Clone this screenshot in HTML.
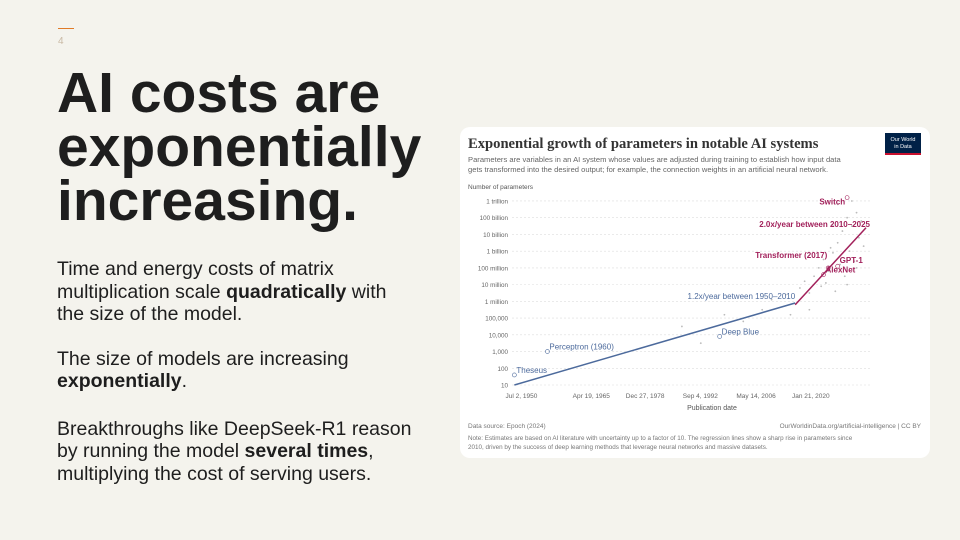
<!DOCTYPE html>
<html><head><meta charset="utf-8">
<style>
body{margin:0;width:960px;height:540px;background:#f4f3ed;font-family:"Liberation Sans",sans-serif;overflow:hidden;position:relative}
.num{position:absolute;left:58px;top:36px;font-size:10px;color:#c9b9a4}
.bar{position:absolute;left:58px;top:28px;width:16px;height:1px;background:#e07b28}
h1{position:absolute;left:57px;top:66px;margin:0;font-size:57px;line-height:54px;font-weight:bold;color:#1e1e1e}
.body{position:absolute;left:57px;top:258px;font-size:19.5px;line-height:22.5px;color:#1e1e1e;width:400px}
.body p{margin:0 0 22px 0}
.card{position:absolute;left:460px;top:127px;width:470px;height:331px;background:#fff;border-radius:10px}
</style></head><body>
<div class="bar"></div>
<div class="num">4</div>
<h1>AI costs are<br>exponentially<br>increasing.</h1>
<div class="body">
<p>Time and energy costs of matrix<br>multiplication scale <b>quadratically</b> with<br>the size of the model.</p>
<p>The size of models are increasing<br><b>exponentially</b>.</p>
<p style="margin-top:25px">Breakthroughs like DeepSeek-R1 reason<br>by running the model <b>several times</b>,<br>multiplying the cost of serving users.</p>
</div>
<div class="card"></div>
<svg id="chart" width="960" height="540" style="position:absolute;left:0;top:0" font-family="Liberation Sans, sans-serif">
<text x="468" y="148" font-family="Liberation Serif, serif" font-size="14.6" font-weight="bold" fill="#333">Exponential growth of parameters in notable AI systems</text>
<rect x="885" y="133" width="36" height="20" fill="#002147"/>
<rect x="885" y="153" width="36" height="2" fill="#c8102e"/>
<text x="903" y="141" font-size="5.5" fill="#fff" text-anchor="middle">Our World</text>
<text x="903" y="148" font-size="5.5" fill="#fff" text-anchor="middle">in Data</text>
<text x="468" y="162" font-size="7.6" fill="#666">Parameters are variables in an AI system whose values are adjusted during training to establish how input data</text>
<text x="468" y="172" font-size="7.6" fill="#666">gets transformed into the desired output; for example, the connection weights in an artificial neural network.</text>
<text x="468" y="189" font-size="6.5" fill="#555">Number of parameters</text>
<g id="grid"></g><g id="dots"></g><g id="lines"></g><g id="labels"></g>
<text x="712" y="410" font-size="7" fill="#555" text-anchor="middle">Publication date</text>
<text x="468" y="428" font-size="6.5" fill="#777">Data source: Epoch (2024)</text>
<text x="921" y="428" font-size="6.5" fill="#777" text-anchor="end">OurWorldinData.org/artificial-intelligence | CC BY</text>
<text x="468" y="440" font-size="6.3" fill="#777">Note: Estimates are based on AI literature with uncertainty up to a factor of 10. The regression lines show a sharp rise in parameters since</text>
<text x="468" y="449" font-size="6.3" fill="#777">2010, driven by the success of deep learning methods that leverage neural networks and massive datasets.</text>
</svg>
<script>
const yTicks=[1,2,3,4,5,6,7,8,9,10,11,12];
const yTickLabels=["10","100","1,000","10,000","100,000","1 million","10 million","100 million","1 billion","10 billion","100 billion","1 trillion"];
const xTicks=[1952,1966.8,1978.2,1989.9,2001.7,2013.3];
const xTickLabels=["Jul 2, 1950","Apr 19, 1965","Dec 27, 1978","Sep 4, 1992","May 14, 2006","Jan 21, 2020"];
const blueLineYears=[1950.5,2010];
const blueLineLog=[1.0,5.9];
const redLineYears=[2010,2025];
const redLineLog=[5.8,10.4];
const notableNames=["Theseus","Perceptron (1960)","Deep Blue","AlexNet","Transformer (2017)","GPT-1","Switch"];
const notableYears=[1950.5,1957.5,1994,2016,2017,2019,2021];
const notableLog=[1.6,3.0,3.9,7.6,8.0,8.1,12.2];
const dotYears=[1986,1990,1995,1999,2003,2005,2008,2009,2011,2012,2013,2014,2015,2015.5,2016,2016.5,2017,2017.5,2018,2018.5,2019,2019.5,2020,2020.5,2021,2021.5,2022,2022.5,2023,2023.5,2024,2024.5,2013,2018,2021,2023,2019,2022];
const dotLog=[4.5,3.5,5.2,4.8,5.5,6.1,6.4,5.2,6.8,7.2,6.5,7.5,8.0,6.9,8.5,7.1,7.8,9.2,8.9,6.6,9.5,8.2,10.2,7.5,11.0,9.0,10.5,8.4,11.3,9.8,10.8,9.3,5.5,10.5,7.0,8.0,11.8,12.0];
const X=y=>512+(y-1950)*4.72;
const Y=l=>385-(l-1)*16.73;
const NS="http://www.w3.org/2000/svg";
function mk(tag,attrs,parent,txt){const e=document.createElementNS(NS,tag);for(const k in attrs)e.setAttribute(k,attrs[k]);if(txt!==undefined)e.textContent=txt;document.getElementById(parent).appendChild(e);return e;}
yTicks.forEach((t,i)=>{
 const g=mk('line',{x1:512,x2:870,y1:Y(t),y2:Y(t),stroke:'#ddd','stroke-dasharray':'2,2','stroke-width':0.6},'grid');
 
 
 const l=mk('text',{x:508,y:Y(t)+2.5,'font-size':6.3,fill:'#666','text-anchor':'end'},'grid',yTickLabels[i]);
 
 
});
xTicks.forEach((t,i)=>{
 const l=mk('text',{x:X(t),y:398,'font-size':6.5,fill:'#666','text-anchor':'middle'},'grid',xTickLabels[i]);
 
 
});
dotYears.forEach((d,i)=>{
 const c=mk('circle',{cx:X(d),cy:Y(dotLog[i]),r:0.9,fill:'#bbb'},'dots');
 
 
});
const bl=mk('line',{x1:X(blueLineYears[0]),y1:Y(blueLineLog[0]),x2:X(blueLineYears[1]),y2:Y(blueLineLog[1]),stroke:'#4c6a9c','stroke-width':1.5},'lines');


const rl=mk('line',{x1:X(redLineYears[0]),y1:Y(redLineLog[0]),x2:X(redLineYears[1]),y2:Y(redLineLog[1]),stroke:'#a2215b','stroke-width':1.5},'lines');


const t1=mk('text',{x:X(blueLineYears[1]),y:Y(blueLineLog[1])-4,'font-size':8,fill:'#4c6a9c','text-anchor':'end'},'labels','1.2x/year between 1950–2010');


const t2=mk('text',{x:870,y:227,'font-size':8,'font-weight':'bold',fill:'#a2215b','text-anchor':'end'},'labels','2.0x/year between 2010–2025');


notableNames.forEach((n,i)=>{
 const red=notableYears[i]>2010;
 const col=red?'#a2215b':'#4c6a9c';
 const c=mk('circle',{cx:X(notableYears[i]),cy:Y(notableLog[i]),r:2,fill:'none',stroke:col,'stroke-width':0.6},'labels');
 
 
 let tx=X(notableYears[i])+2,ty=Y(notableLog[i])-2,anchor='start';
 if(n==='Switch'){tx=X(notableYears[i])-2;ty=Y(notableLog[i])+7;anchor='end';}
 if(n==='Transformer (2017)'){tx=X(notableYears[i])-1;anchor='end';ty-=8;}
 if(n==='GPT-1'){ty-=1;}
 const l=mk('text',{x:tx,y:ty,'font-size':8,'font-weight':red?'bold':'normal',fill:col,'text-anchor':anchor},'labels',n);
 
 
});
</script>
</body></html>
